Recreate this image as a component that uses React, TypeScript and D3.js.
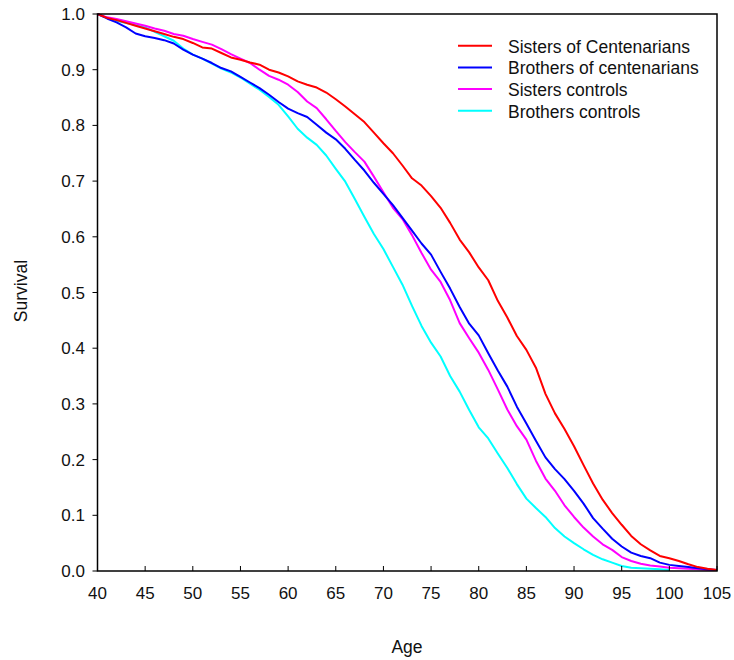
import React from "react";
import * as d3 from "d3";

const ages = d3.range(40, 106);

const sistersCent = [
  1.0, 0.993, 0.989, 0.984, 0.979, 0.974, 0.969, 0.964, 0.959, 0.955,
  0.948, 0.94, 0.938, 0.93, 0.922, 0.918, 0.913, 0.909, 0.9, 0.895,
  0.888, 0.879, 0.873, 0.868, 0.859, 0.847, 0.834, 0.82, 0.806, 0.787,
  0.768, 0.75, 0.728, 0.705, 0.692, 0.673, 0.652, 0.625, 0.595, 0.572,
  0.545, 0.522, 0.485, 0.455, 0.422, 0.397, 0.365, 0.318, 0.283, 0.255,
  0.224, 0.19, 0.157, 0.128, 0.104, 0.083, 0.063, 0.048, 0.037, 0.027,
  0.023, 0.018, 0.012, 0.007, 0.004, 0.002,
];

const brothersCent = [
  1.0, 0.992, 0.985, 0.976, 0.965, 0.96, 0.957, 0.953, 0.947, 0.936,
  0.927, 0.92, 0.912, 0.903, 0.897, 0.887, 0.877, 0.867, 0.855, 0.842,
  0.83, 0.822, 0.815, 0.801, 0.787, 0.775, 0.758, 0.738, 0.719, 0.697,
  0.677, 0.657, 0.634, 0.611, 0.588, 0.568, 0.537, 0.507, 0.474, 0.444,
  0.423, 0.391, 0.36, 0.331, 0.295, 0.265, 0.234, 0.204, 0.183, 0.165,
  0.144, 0.121, 0.095, 0.076, 0.058, 0.044, 0.033, 0.027, 0.023, 0.015,
  0.011, 0.009, 0.007, 0.005, 0.003, 0.002,
];

const sistersCtrl = [
  1.0, 0.994, 0.991, 0.987, 0.983, 0.979, 0.974, 0.97, 0.964, 0.961,
  0.955, 0.95, 0.945, 0.937, 0.928, 0.92, 0.912, 0.9, 0.889, 0.882,
  0.873, 0.86, 0.843, 0.831, 0.811, 0.79, 0.77, 0.752, 0.735, 0.708,
  0.68, 0.652, 0.632, 0.603, 0.571, 0.541, 0.519, 0.486, 0.445, 0.418,
  0.392, 0.361, 0.326, 0.29, 0.26, 0.236, 0.198, 0.166, 0.144, 0.118,
  0.097, 0.078, 0.062, 0.048, 0.038, 0.025, 0.018, 0.013, 0.01, 0.008,
  0.006, 0.005, 0.004, 0.003, 0.002, 0.002,
];

const brothersCtrl = [
  1.0, 0.993, 0.988, 0.984, 0.98, 0.976, 0.968, 0.96, 0.952, 0.938,
  0.927, 0.92, 0.911, 0.902, 0.895, 0.886, 0.875, 0.864, 0.851, 0.837,
  0.816, 0.794, 0.778, 0.765, 0.746, 0.722, 0.699, 0.668, 0.636, 0.605,
  0.578, 0.546, 0.514, 0.476, 0.44, 0.41, 0.385, 0.35, 0.322, 0.289,
  0.258, 0.238, 0.211, 0.185, 0.156, 0.13, 0.113, 0.097, 0.077, 0.062,
  0.05, 0.039, 0.029, 0.021, 0.015, 0.009, 0.006, 0.005, 0.004, 0.003,
  0.002,
];

const seriesNames = [
  "Sisters of Centenarians",
  "Brothers of centenarians",
  "Sisters controls",
  "Brothers controls",
];
const seriesValues = [sistersCent, brothersCent, sistersCtrl, brothersCtrl];
const seriesColors = ["#ff0000", "#0000ff", "#ff00ff", "#00ffff"];
const drawOrder = [3, 2, 1, 0];

const xTicks = d3.range(40, 106, 5);
const yTicks = d3.range(0, 11).map((i) => i / 10);

const FONT = "'Liberation Sans', Arial, Helvetica, sans-serif";

export default function App() {
  const width = 734;
  const height = 660;
  const left = 97.5;
  const right = 717;
  const top = 14;
  const bottom = 571;

  const x = d3.scaleLinear().domain([40, 105]).range([left, right]);
  const y = d3.scaleLinear().domain([0, 1]).range([bottom, top]);

  const line = d3
    .line<[number, number]>()
    .x((d) => x(d[0]))
    .y((d) => y(d[1]));

  return (
    <svg
      width={width}
      height={height}
      style={{ position: "absolute", left: 0, top: 0, background: "#fff" }}
      fontFamily={FONT}
    >
      <rect x={0} y={0} width={width} height={height} fill="#fff" />
      <g>
        {drawOrder.map((si) => {
          const vals = seriesValues[si];
          const pts: [number, number][] = vals.map((v, i) => [ages[i], v]);
          return (
            <path
              key={si}
              d={line(pts) || ""}
              fill="none"
              stroke={seriesColors[si]}
              strokeWidth={2}
              strokeLinejoin="round"
            />
          );
        })}
      </g>
      <rect
        x={left}
        y={top}
        width={right - left}
        height={bottom - top}
        fill="none"
        stroke="#000"
        strokeWidth={1.5}
      />
      {xTicks.map((t) => (
        <g key={"x" + t}>
          <line x1={x(t)} x2={x(t)} y1={bottom} y2={bottom - 5} stroke="#000" strokeWidth={1} />
          <text x={x(t)} y={598.5} textAnchor="middle" fontSize={17} fill="#111">
            {t}
          </text>
        </g>
      ))}
      {yTicks.map((t) => (
        <g key={"y" + t}>
          <line x1={left} x2={left - 5} y1={y(t)} y2={y(t)} stroke="#000" strokeWidth={1} />
          <text x={85} y={y(t) + 6} textAnchor="end" fontSize={17} fill="#111">
            {t.toFixed(1)}
          </text>
        </g>
      ))}
      <text x={407} y={653} textAnchor="middle" fontSize={17.5} fill="#111">
        Age
      </text>
      <text
        transform={`translate(27,291) rotate(-90)`}
        textAnchor="middle"
        fontSize={17.5}
        fill="#111"
      >
        Survival
      </text>
      {seriesNames.map((name, i) => {
        const ly = 45.7 + i * 21.7;
        return (
          <g key={name}>
            <line x1={458} x2={492} y1={ly} y2={ly} stroke={seriesColors[i]} strokeWidth={2} />
            <text x={508} y={ly + 6.8} fontSize={17.5} fill="#111">
              {name}
            </text>
          </g>
        );
      })}
    </svg>
  );
}
